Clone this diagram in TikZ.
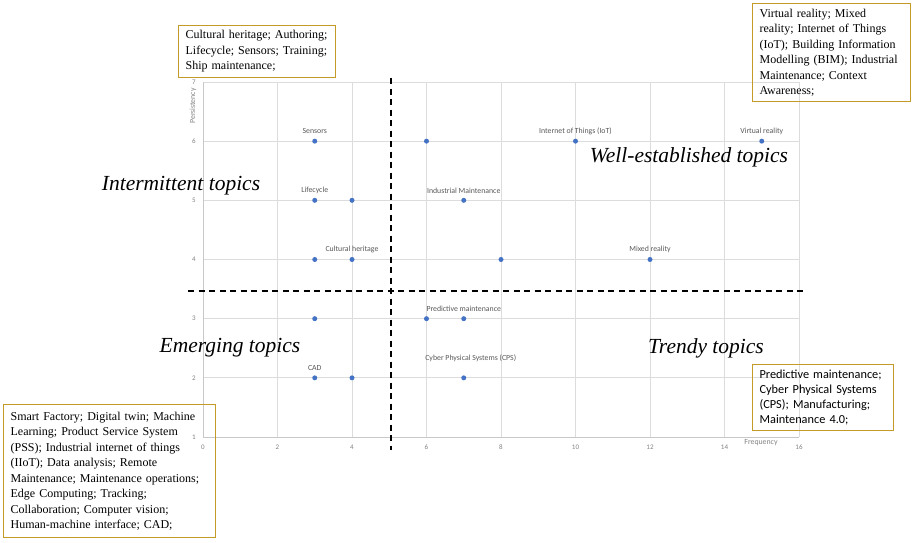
\documentclass[tikz,border=0pt]{standalone}
\usepackage{fontspec}
\setmainfont{Liberation Serif}
\newfontfamily\calib{Carlito}
\definecolor{gold}{RGB}{196,154,40}
\definecolor{gridc}{RGB}{220,220,220}
\definecolor{axisc}{RGB}{200,200,200}
\definecolor{dotc}{RGB}{68,114,196}
\definecolor{lblc}{RGB}{89,89,89}
\definecolor{tickc}{RGB}{130,130,130}
\begin{document}
\begin{tikzpicture}[x=1pt,y=-1pt,
  gridline/.style={draw=gridc,line width=0.7pt},
  axisline/.style={draw=axisc,line width=0.8pt},
  ticklbl/.style={font=\calib\fontsize{7}{8}\selectfont,text=tickc,inner sep=0pt},
  axtitle/.style={font=\calib\fontsize{7.8}{9}\selectfont,text=tickc,inner sep=0pt},
  ptlbl/.style={font=\calib\fontsize{7.8}{9}\selectfont,text=lblc,inner sep=0pt},
  datapt/.style={circle,fill=dotc,inner sep=0pt,minimum size=5pt},
  quad/.style={font=\fontsize{21.5}{25}\selectfont\itshape,inner sep=0pt},
  tbox/.style={draw=gold,line width=1.2pt,anchor=north west,align=left,
    inner xsep=7pt,inner ysep=3pt,font=\fontsize{12}{15.5}\selectfont},
  sbox/.style={draw=gold,line width=1.2pt,anchor=north west,align=left,
    inner xsep=7pt,inner ysep=3pt,font=\calib\fontsize{12.3}{15}\selectfont},
  divider/.style={draw=black,line width=2pt,dash pattern=on 6pt off 4.5pt}]
\useasboundingbox (0,0) rectangle (914,542);
\fill[white] (0,0) rectangle (914,542);
\begin{scope}[shift={(203,496.17)},x=37.25pt,y=59.17pt]
  \foreach \yy in {2,...,7} \draw[gridline] (0,\yy) -- (16,\yy);
  \foreach \xx in {2,4,...,16} \draw[gridline] (\xx,1) -- (\xx,7);
  \draw[axisline] (0,1) -- (16,1);
  \draw[axisline] (0,1) -- (0,7);
  \foreach \xx in {0,2,...,16} \node[ticklbl] (xt\xx) at ([yshift=-10.5pt]\xx,1) {\xx};
  \foreach \yy in {1,...,7} \node[ticklbl] (yt\yy) at ([xshift=-9pt]0,\yy) {\yy};
  % data points
  \node[datapt] (p36) at (3,6) {};
  \node[datapt] (p66) at (6,6) {};
  \node[datapt] (p106) at (10,6) {};
  \node[datapt] (p156) at (15,6) {};
  \node[datapt] (p35) at (3,5) {};
  \node[datapt] (p45) at (4,5) {};
  \node[datapt] (p75) at (7,5) {};
  \node[datapt] (p34) at (3,4) {};
  \node[datapt] (p44) at (4,4) {};
  \node[datapt] (p84) at (8,4) {};
  \node[datapt] (p124) at (12,4) {};
  \node[datapt] (p33) at (3,3) {};
  \node[datapt] (p63) at (6,3) {};
  \node[datapt] (p73) at (7,3) {};
  \node[datapt] (p32) at (3,2) {};
  \node[datapt] (p42) at (4,2) {};
  \node[datapt] (p72) at (7,2) {};
\end{scope}
% point labels
\node[ptlbl] (l1) at ([yshift=10pt]p36) {Sensors};
\node[ptlbl] (l2) at ([yshift=10pt]p106) {Internet of Things (IoT)};
\node[ptlbl] (l3) at ([yshift=10pt]p156) {Virtual reality};
\node[ptlbl] (l4) at ([yshift=10pt]p35) {Lifecycle};
\node[ptlbl] (l5) at ([yshift=10pt]p75) {Industrial Maintenance};
\node[ptlbl] (l6) at ([yshift=10pt]p44) {Cultural heritage};
\node[ptlbl] (l7) at ([yshift=10pt]p124) {Mixed reality};
\node[ptlbl] (l8) at ([yshift=9.5pt]p73) {Predictive maintenance};
\node[ptlbl] (l9) at ([yshift=10pt]p32) {CAD};
\node[ptlbl] (l10) at ([xshift=7pt,yshift=19.5pt]p72) {Cyber Physical Systems (CPS)};
% axis titles
\node[axtitle,rotate=90] (ytitle) at (193,106) {Persistency};
\node[axtitle] (xtitle) at (761,443) {Frequency};
% dividers
\coordinate (vtop) at (391,78);
\coordinate (vbot) at (391,450);
\coordinate (hl) at (188,290.5);
\coordinate (hr) at (806,290.5);
\draw[divider] (vtop) -- (vbot);
\draw[divider] (hl) -- (hr);
% quadrant titles
\node[quad] (qi) at (181,186) {Intermittent topics};
\node[quad] (qw) at (689,157) {Well-established topics};
\node[quad] (qe) at (230,348) {Emerging topics};
\node[quad] (qt) at (706,348) {Trendy topics};
% boxes
\node[tbox,text width=143pt,minimum height=52pt] (b1) at (178,25)
  {Cultural heritage; Authoring;\\Lifecycle; Sensors; Training;\\Ship maintenance;};
\node[tbox,text width=144pt,minimum height=98pt] (b2) at (752,3)
  {Virtual reality; Mixed\\reality; Internet of Things\\(IoT); Building Information\\Modelling (BIM); Industrial\\Maintenance; Context\\Awareness;};
\node[tbox,text width=198pt,minimum height=133pt] (b3) at (3,404)
  {Smart Factory; Digital twin; Machine\\Learning; Product Service System\\(PSS); Industrial internet of things\\(IIoT); Data analysis; Remote\\Maintenance; Maintenance operations;\\Edge Computing; Tracking;\\Collaboration; Computer vision;\\Human-machine interface; CAD;};
\node[sbox,text width=127pt,minimum height=66pt] (b4) at (752,364)
  {Predictive maintenance;\\Cyber Physical Systems\\(CPS); Manufacturing;\\Maintenance 4.0;};
\end{tikzpicture}
\end{document}
